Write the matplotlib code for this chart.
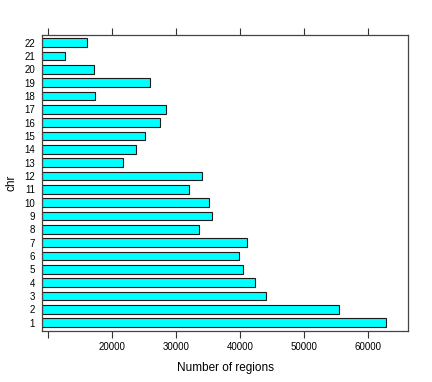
import numpy as np
import matplotlib
matplotlib.use("Agg")
import matplotlib.pyplot as plt

plt.rcParams['font.family'] = ['Liberation Sans', 'DejaVu Sans']

chrs = [str(i) for i in range(1, 23)]
regions = [62740, 55470, 44060, 42340, 40470, 39800, 41000, 33660, 35690, 35220,
           31980, 34120, 21720, 23810, 25110, 27500, 28390, 17340, 25940, 17190,
           12620, 16090]

vals = np.array(regions)
pad = 0.07 * (vals.max() - vals.min())
lo, hi = vals.min() - pad, vals.max() + pad
ypos = np.arange(1, len(chrs) + 1)

fig = plt.figure(figsize=(4.32, 3.82), dpi=100)
ax = fig.add_axes([0.0975, 0.1343, 0.9452 - 0.0975, 0.9092 - 0.1343])

ax.barh(ypos, vals - lo, left=lo, height=0.67, color='#00FFFF',
        edgecolor='#1a1a1a', linewidth=0.8)

ax.set_xlim(lo, hi)
ax.set_ylim(0.4, len(chrs) + 0.6)

xt = [10000, 20000, 30000, 40000, 50000, 60000]
ax.set_xticks(xt)
ax.set_xticklabels([''] + [str(t) for t in xt[1:]])
ax.set_yticks(ypos)
ax.set_yticklabels(chrs)
ax.tick_params(axis='x', which='both', top=True, bottom=True, direction='out',
               length=5, width=0.8, labelsize=7, pad=3, color='#333333')
ax.tick_params(axis='y', length=0, labelsize=7, pad=5)

for s in ax.spines.values():
    s.set_linewidth(0.9)
    s.set_color('#444444')

ax.set_xlabel('Number of regions', fontsize=8.5, labelpad=7)
ax.set_ylabel('chr', fontsize=8.5, labelpad=5)

fig.savefig('out.png', dpi=100)
